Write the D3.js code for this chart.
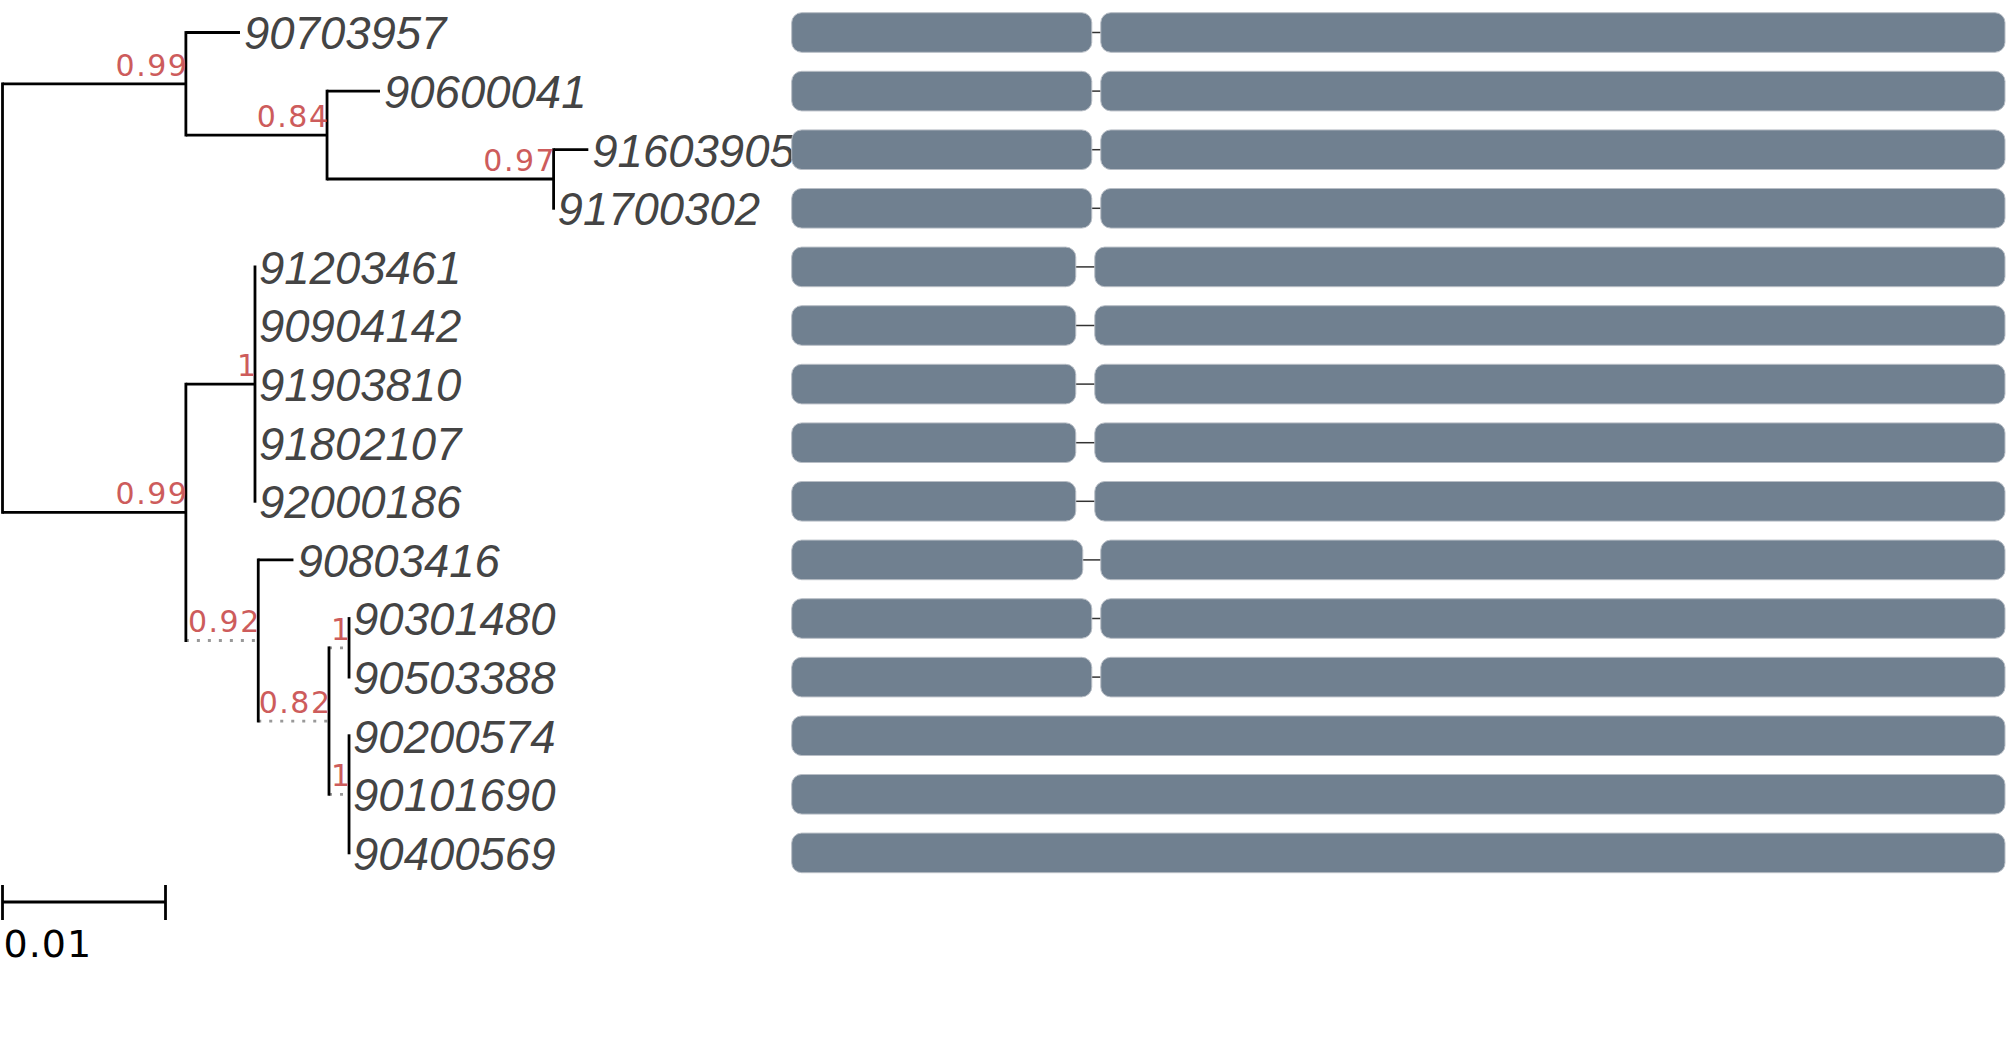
<!DOCTYPE html>
<html>
<head>
<meta charset="utf-8">
<script src="https://cdn.jsdelivr.net/npm/d3@7"></script>
<style>
  body { margin: 0; background: #fff; }
  svg { display: block; }
  .tip { font-family: "Liberation Sans", Arial, sans-serif; font-style: italic; font-size: 45.5px; fill: #444; }
  .boot { font-family: "DejaVu Sans", sans-serif; font-size: 30px; fill: indianred; letter-spacing: 1.5px; }
  .scaletext { font-family: "DejaVu Sans", sans-serif; font-size: 38px; fill: #000; letter-spacing: 1px; }
</style>
</head>
<body>
<div id="chart"></div>
<script>
var width = 2007, height = 1049;

// tree: node, parent, branch length, support, dotted branch
var nodeIds   = ["root", "A", "90703957", "B", "90600041", "C", "91603905", "91700302",
                 "D", "E", "91203461", "90904142", "91903810", "91802107", "92000186",
                 "F", "90803416", "G", "H", "90301480", "90503388", "I", "90200574", "90101690", "90400569"];
var parentIds = ["", "root", "A", "A", "B", "B", "C", "C",
                 "root", "D", "E", "E", "E", "E", "E",
                 "D", "F", "F", "G", "H", "H", "G", "I", "I", "I"];
var branchLen = [0, 0.01125, 0.00332, 0.00866, 0.00325, 0.0139, 0.00213, 0,
                 0.01125, 0.00424, 0, 0, 0, 0, 0,
                 0.00444, 0.00216, 0.00434, 0.00123, 0, 0, 0.00123, 0, 0, 0];
var support   = [null, 0.99, null, 0.84, null, 0.97, null, null,
                 0.99, 1, null, null, null, null, null,
                 0.92, null, 0.82, 1, null, null, 1, null, null, null];
var dotted    = ["F", "G", "H", "I"];

// tip order, top to bottom
var tipOrder = ["90703957", "90600041", "91603905", "91700302", "91203461", "90904142",
                "91903810", "91802107", "92000186", "90803416", "90301480", "90503388",
                "90200574", "90101690", "90400569"];

// gene structure per tip (same order)
var geneLen   = 1213;
var seg1End   = [300, 300, 300, 300, 284, 284, 284, 284, 284, 291, 300, 300, 1213, 1213, 1213];
var seg2Start = [309, 309, 309, 309, 303, 303, 303, 303, 303, 309, 309, 309, null, null, null];

var scaleBarLen = 0.01;

var table = nodeIds.map(function(d, i) {
  return {id: d, parentId: parentIds[i] || null, len: branchLen[i], support: support[i]};
});
var root = d3.stratify().id(function(d){ return d.id; }).parentId(function(d){ return d.parentId; })(table);

// cumulative distance from root
root.eachBefore(function(n) {
  n.dist = n.parent ? n.parent.dist + n.data.len : 0;
});

var x = d3.scaleLinear().domain([0, scaleBarLen]).range([2.5, 165.5]);
var y = d3.scalePoint().domain(tipOrder).range([32.5, 852.9]);
var xg = d3.scaleLinear().domain([0, geneLen]).range([791.7, 2005]);

root.eachAfter(function(n) {
  if (!n.children) n.yy = y(n.id);
  else n.yy = d3.mean(n.children, function(c){ return c.yy; });
});

var svg = d3.select("#chart").append("svg")
  .attr("width", width)
  .attr("height", height);

var g = svg.append("g");

// horizontal branches
g.selectAll(".hbranch")
  .data(root.descendants().filter(function(n){ return n.parent; }))
  .enter().append("line")
  .attr("class", "hbranch")
  .attr("x1", function(n){ return x(n.parent.dist); })
  .attr("x2", function(n){ return x(n.dist); })
  .attr("y1", function(n){ return n.yy; })
  .attr("y2", function(n){ return n.yy; })
  .attr("stroke", function(n){ return dotted.indexOf(n.id) >= 0 ? "#999" : "#000"; })
  .attr("stroke-width", 2.8)
  .attr("stroke-dasharray", function(n){ return dotted.indexOf(n.id) >= 0 ? "3,8" : null; });

// vertical connectors
g.selectAll(".vbranch")
  .data(root.descendants().filter(function(n){ return n.children; }))
  .enter().append("line")
  .attr("class", "vbranch")
  .attr("x1", function(n){ return x(n.dist); })
  .attr("x2", function(n){ return x(n.dist); })
  .attr("y1", function(n){ return d3.min(n.children, function(c){ return c.yy; }) - 1.4; })
  .attr("y2", function(n){ return d3.max(n.children, function(c){ return c.yy; }) + 1.4; })
  .attr("stroke", "#000")
  .attr("stroke-width", 2.8);

// tip labels
g.selectAll(".tip")
  .data(root.leaves())
  .enter().append("text")
  .attr("class", "tip")
  .attr("x", function(n){ return x(n.dist) + 4; })
  .attr("y", function(n){ return n.yy + 16.8; })
  .text(function(n){ return n.id; });

// support values
g.selectAll(".boot")
  .data(root.descendants().filter(function(n){ return n.data.support != null; }))
  .enter().append("text")
  .attr("class", "boot")
  .attr("text-anchor", "end")
  .attr("x", function(n){ return x(n.dist) + 2.5; })
  .attr("y", function(n){ return n.yy - 8; })
  .text(function(n){ return n.data.support; });

// scale bar
var sb = g.append("g");
sb.append("line")
  .attr("x1", x(0)).attr("x2", x(scaleBarLen))
  .attr("y1", 902).attr("y2", 902)
  .attr("stroke", "#000").attr("stroke-width", 2.8);
[0, scaleBarLen].forEach(function(v) {
  sb.append("line")
    .attr("x1", x(v)).attr("x2", x(v))
    .attr("y1", 885).attr("y2", 920)
    .attr("stroke", "#000").attr("stroke-width", 2.8);
});
sb.append("text")
  .attr("class", "scaletext")
  .attr("x", x(0) + 1)
  .attr("y", 957)
  .text(scaleBarLen);

// gene structures
var genes = tipOrder.map(function(t, i) {
  var segs = seg2Start[i] == null ? [[0, geneLen]] : [[0, seg1End[i]], [seg2Start[i], geneLen]];
  return {tip: t, segs: segs, gap: seg2Start[i] == null ? null : [seg1End[i], seg2Start[i]]};
});

var rows = g.selectAll(".gene")
  .data(genes)
  .enter().append("g")
  .attr("class", "gene");

rows.filter(function(d){ return d.gap; })
  .append("line")
  .attr("x1", function(d){ return xg(d.gap[0]) - 2; })
  .attr("x2", function(d){ return xg(d.gap[1]) + 2; })
  .attr("y1", function(d){ return y(d.tip); })
  .attr("y2", function(d){ return y(d.tip); })
  .attr("stroke", "#333")
  .attr("stroke-width", 1.5);

rows.selectAll("rect")
  .data(function(d){ return d.segs.map(function(s){ return {tip: d.tip, s: s}; }); })
  .enter().append("rect")
  .attr("x", function(d){ return xg(d.s[0]); })
  .attr("width", function(d){ return xg(d.s[1]) - xg(d.s[0]); })
  .attr("y", function(d){ return y(d.tip) - 19.8; })
  .attr("height", 39.6)
  .attr("rx", 10).attr("ry", 10)
  .attr("fill", "#708090")
  .attr("stroke", "#b8bec6")
  .attr("stroke-width", 1);
</script>
</body>
</html>
